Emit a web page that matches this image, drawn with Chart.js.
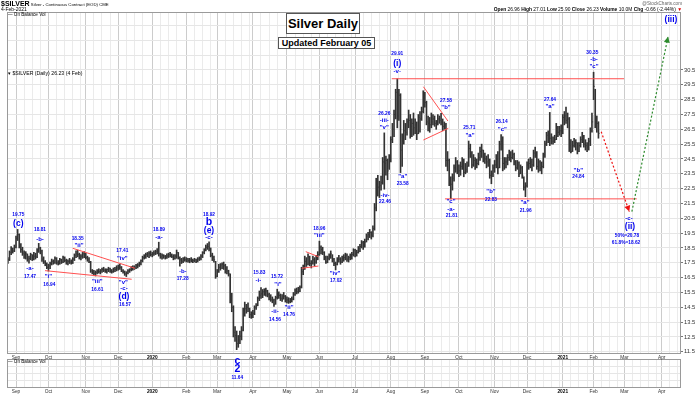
<!DOCTYPE html>
<html><head><meta charset="utf-8">
<script src="https://cdn.jsdelivr.net/npm/chart.js@4.4.1/dist/chart.umd.min.js"></script>
<style>
html,body{margin:0;padding:0;background:#fff;}
#wrap{position:relative;width:700px;height:395px;overflow:hidden;font-family:"Liberation Sans",Arial,sans-serif;}
canvas{position:absolute;left:0;}
#c1{top:0;} #c2{top:358px;}
.t{position:absolute;white-space:nowrap;color:#000;}
.box{position:absolute;box-sizing:border-box;border:1px solid #555;background:#fff;font-weight:bold;text-align:center;white-space:nowrap;color:#000;}
</style></head>
<body><div id="wrap">
<canvas id="c2" width="700" height="37"></canvas>
<canvas id="c1" width="700" height="395"></canvas>
<div class="t" style="left:1px;top:0px;font-size:4.3px;line-height:8px;"><b style="font-size:7px;">$SILVER</b> Silver - Continuous Contract (EOD) CME</div>
<div class="t" style="left:1px;top:6px;font-size:5px;line-height:6px;">4-Feb-2021</div>
<div class="t" style="left:8px;top:12px;font-size:4.6px;line-height:6px;">&#8212; On Balance Vol</div>
<div class="t" style="left:8px;top:69.5px;font-size:5.2px;line-height:6px;">&#9662; $SILVER (Daily) 26.23 (4 Feb)</div>
<div class="t" style="right:18px;top:1px;font-size:4.6px;line-height:6px;color:#666;">@StockCharts.com</div>
<div class="t" style="right:18px;top:7px;font-size:4.9px;line-height:6px;"><b>Open</b> 26.96 <b>High</b> 27.01 <b>Low</b> 25.90 <b>Close</b> 26.23 <b>Volume</b> 10.0M <b>Chg</b> -0.66 (-2.44%) <span style="color:#d00;">&#9660;</span></div>
<div class="t" style="left:8px;top:359px;font-size:4.6px;line-height:6px;">&#8212; On Balance Vol</div>
<div class="box" style="left:286px;top:13px;width:74px;height:21px;font-size:13px;line-height:19px;">Silver Daily</div>
<div class="box" style="left:278px;top:37px;width:97px;height:12px;font-size:9px;line-height:10px;">Updated February 05</div>
</div>
<script>
// ---------- DATA (daily bars, trading-day index starting at FIRST_INDEX; index 0 = 3-Sep-2019) ----------
const FIRST_INDEX = -5;
const highs = [
 17.85,18.30,18.60,18.50,18.70,19.30,19.75,
 19.45,18.80,18.55,18.30,18.25,18.10,17.95,18.15,18.05,18.20,18.15,18.45,18.81,18.55,18.35,17.90,17.65,17.50,17.40,
 17.55,17.75,17.70,17.90,17.85,17.65,17.80,17.75,17.95,17.90,17.75,17.70,17.80,17.70,17.85,18.10,18.30,18.35,18.15,18.05,18.20,18.25,18.15,17.95,17.85,17.60,17.05,17.00,
 16.95,17.05,17.10,17.05,17.15,17.20,17.10,17.10,17.20,17.15,17.05,17.15,17.20,17.30,17.35,17.41,17.25,17.05,16.95,16.90,17.05,17.10,17.25,17.30,17.30,17.40,
 17.45,17.55,17.70,17.95,18.05,18.15,18.20,18.25,18.30,18.20,18.30,18.35,18.45,18.89,18.15,18.10,18.05,18.00,18.10,18.15,18.20,18.10,18.05,18.05,18.36,18.20,17.90,17.80,17.85,17.90,17.85,17.80,17.80,17.85,17.75,17.80,17.75,17.85,17.90,18.05,18.25,18.45,18.70,18.80,18.92,18.50,18.15,17.95,17.60,17.05,
 17.40,17.45,17.50,17.55,17.40,17.25,17.00,16.75,15.45,14.60,13.20,12.90,12.60,12.90,13.20,14.45,14.85,14.70,14.80,14.45,14.20,
 14.30,14.60,14.75,15.20,15.60,15.83,15.70,15.75,15.80,15.65,15.45,15.35,15.20,15.05,15.25,15.72,15.55,15.40,15.35,15.50,15.30,15.20,15.15,15.10,15.20,15.50,15.75,15.80,15.85,15.95,17.20,17.35,17.95,17.85,18.10,17.95,17.65,17.95,17.85,18.00,18.25,18.96,
 18.65,18.55,18.25,17.95,17.95,18.10,18.30,18.05,17.80,17.55,17.85,18.00,17.85,17.95,18.05,18.15,18.10,17.95,18.10,18.20,18.45,18.40,18.35,18.60,18.75,19.00,18.95,19.10,19.45,19.55,19.75,19.60,20.00,21.50,23.20,23.40,23.00,23.35,24.60,26.26,24.70,24.50,24.80,26.00,26.90,27.80,29.20,29.91,29.20,28.90,26.20,27.10,26.90,27.20,27.80,27.50,27.20,27.60,27.20,27.00,27.50,27.70,28.00,29.10,
 29.00,28.40,27.40,27.30,27.60,27.50,27.40,27.10,27.50,27.40,27.58,27.20,27.00,26.90,25.00,24.50,23.30,23.50,24.10,24.60,24.40,
 24.10,24.30,24.60,24.50,24.20,24.30,25.71,25.50,25.00,24.80,24.60,24.50,24.90,25.30,25.50,25.10,24.90,24.70,24.80,24.50,23.70,24.10,
 24.40,24.80,25.00,25.70,26.14,26.00,24.60,24.60,24.80,25.10,25.00,25.10,24.90,24.40,24.40,24.30,24.10,24.00,23.30,22.90,
 24.30,24.50,24.60,24.50,25.10,25.30,25.00,24.50,24.40,24.30,24.90,25.70,26.30,26.40,27.64,26.20,26.00,26.10,26.90,26.70,26.70,26.80,
 27.50,27.70,28.00,27.60,27.30,25.80,25.70,25.90,25.80,25.60,25.60,26.00,26.30,26.10,25.80,25.60,25.90,26.60,27.60,30.35,29.20,27.40,27.01
];
const lows = [
 17.45,17.65,18.05,18.15,18.25,18.50,19.00,
 18.50,18.20,18.00,17.80,17.75,17.60,17.47,17.70,17.65,17.70,17.75,17.85,18.20,18.10,17.60,17.45,17.30,17.10,16.94,
 17.10,17.35,17.40,17.45,17.40,17.35,17.40,17.45,17.50,17.55,17.40,17.35,17.45,17.40,17.45,17.65,17.85,17.90,17.75,17.70,17.80,17.85,17.75,17.60,17.50,16.85,16.75,16.70,
 16.61,16.75,16.80,16.75,16.85,16.90,16.85,16.80,16.90,16.85,16.80,16.85,16.90,16.95,17.00,17.05,16.90,16.80,16.65,16.57,16.75,16.85,16.95,17.00,17.05,17.10,
 17.15,17.25,17.35,17.55,17.75,17.80,17.90,17.85,17.95,17.90,18.00,18.05,18.10,17.95,17.80,17.75,17.80,17.75,17.80,17.85,17.90,17.85,17.70,17.75,17.80,17.75,17.28,17.45,17.50,17.60,17.55,17.55,17.50,17.55,17.50,17.55,17.50,17.55,17.65,17.70,17.85,18.10,18.30,18.40,18.30,17.90,17.65,17.55,16.45,16.55,
 16.85,17.00,17.10,17.05,16.80,16.75,16.60,14.80,14.20,12.50,12.20,11.64,11.80,12.05,12.30,12.90,13.90,14.10,14.20,13.80,13.75,
 13.80,14.00,14.35,14.60,14.95,15.10,15.15,15.30,15.25,15.20,15.00,14.90,14.80,14.56,14.70,15.05,15.10,14.95,14.90,15.05,14.85,14.80,14.76,14.80,14.85,15.00,15.30,15.40,15.45,15.55,15.80,16.70,17.05,17.25,17.35,17.30,17.15,17.40,17.30,17.45,17.70,18.00,
 18.10,18.05,17.70,17.45,17.50,17.70,17.80,17.55,17.30,17.02,17.35,17.55,17.40,17.50,17.60,17.70,17.60,17.55,17.70,17.75,17.95,17.90,17.95,18.15,18.25,18.50,18.40,18.55,18.90,19.05,19.20,19.10,19.25,19.70,21.00,22.00,21.90,22.40,22.80,22.46,23.40,23.10,23.80,24.30,25.60,26.00,27.20,26.60,27.10,23.58,24.00,25.50,25.80,26.10,26.60,25.90,26.00,26.10,26.20,25.80,26.20,26.30,27.10,27.60,
 28.00,26.80,26.40,26.30,26.60,26.80,26.70,26.50,26.80,26.90,26.80,26.40,26.50,24.00,23.70,22.70,21.81,22.40,23.00,23.60,23.50,
 23.30,23.40,23.80,23.30,23.50,23.60,24.00,24.60,23.90,24.00,23.80,23.90,24.10,24.40,24.60,24.30,24.20,23.90,24.00,23.20,22.83,23.30,
 23.60,23.90,23.50,23.90,25.10,23.70,23.80,23.90,24.10,24.40,24.30,24.50,24.10,23.70,23.80,23.30,23.50,23.20,22.40,21.96,
 22.60,23.80,23.90,23.70,24.00,24.60,23.80,23.60,23.70,23.50,23.90,24.60,25.40,25.60,25.40,25.50,25.50,25.60,25.80,26.00,26.10,26.00,
 26.20,26.80,26.90,26.60,25.00,24.90,25.00,25.30,25.10,24.84,25.00,25.30,25.60,25.30,25.10,25.00,25.10,25.40,26.30,28.50,26.60,26.30,25.90
];
const closes = [
 17.70,18.20,18.45,18.30,18.55,19.15,19.40,
 18.70,18.40,18.15,18.05,18.10,17.75,17.80,18.05,17.85,17.95,17.90,18.35,18.50,18.30,17.75,17.55,17.40,17.20,17.30,
 17.45,17.60,17.50,17.80,17.50,17.45,17.70,17.55,17.85,17.65,17.50,17.60,17.55,17.50,17.75,18.00,18.10,18.05,17.85,17.95,18.10,18.00,17.85,17.70,17.55,16.95,16.85,16.80,
 16.85,16.95,16.90,17.00,17.05,17.00,16.95,17.05,17.10,16.95,16.90,17.10,17.05,17.15,17.25,17.20,16.95,16.90,16.75,16.80,16.95,17.05,17.10,17.20,17.15,17.30,
 17.35,17.45,17.65,17.85,17.95,18.05,18.10,18.15,18.05,18.10,18.15,18.25,18.30,18.10,17.90,18.00,17.95,17.85,17.95,18.05,18.00,17.90,17.80,17.95,18.20,17.85,17.70,17.60,17.75,17.70,17.75,17.65,17.70,17.60,17.65,17.70,17.60,17.75,17.80,17.95,18.20,18.40,18.55,18.60,18.50,18.00,17.85,17.70,16.60,16.90,
 17.20,17.35,17.40,17.30,17.05,16.95,16.75,15.00,14.50,12.80,12.60,12.05,12.30,12.55,12.95,14.30,14.40,14.50,14.40,14.00,13.95,
 14.10,14.50,14.60,15.10,15.30,15.40,15.55,15.50,15.60,15.35,15.20,15.00,14.95,14.70,15.15,15.45,15.30,15.10,15.05,15.25,14.95,15.00,14.90,14.95,15.05,15.35,15.60,15.55,15.75,15.85,16.90,17.25,17.60,17.40,17.90,17.45,17.50,17.70,17.55,17.90,18.05,18.55,
 18.40,18.20,17.85,17.55,17.80,17.95,18.10,17.70,17.45,17.40,17.70,17.75,17.55,17.80,17.85,18.00,17.75,17.85,18.00,18.05,18.35,18.10,18.20,18.45,18.60,18.85,18.65,18.90,19.30,19.40,19.55,19.35,19.80,21.20,22.80,22.60,22.70,22.90,24.30,24.20,24.40,23.70,24.50,25.80,26.50,27.50,29.00,27.40,28.80,25.10,25.70,26.40,26.30,27.00,27.10,26.70,26.90,26.60,26.80,26.20,27.30,27.20,27.70,28.80,
 28.30,27.00,26.90,26.80,27.00,27.20,26.90,26.80,27.20,27.10,27.00,26.70,26.80,24.40,24.40,22.90,22.80,23.20,23.90,24.30,23.70,
 23.70,24.00,24.30,23.60,23.80,24.00,25.20,24.90,24.10,24.40,24.20,24.20,24.60,25.00,25.10,24.60,24.50,24.30,24.40,23.40,23.50,23.90,
 24.10,24.50,23.90,25.50,25.70,24.20,24.30,24.30,24.60,24.80,24.60,24.80,24.30,23.90,24.10,23.50,23.90,23.40,22.60,22.70,
 24.10,24.20,24.30,24.10,24.90,24.80,24.00,24.30,23.90,24.00,24.80,25.50,26.10,25.90,25.90,25.70,25.70,25.80,26.30,26.30,26.40,26.40,
 27.30,27.40,27.10,27.20,25.40,25.00,25.40,25.50,25.60,25.00,25.40,25.80,26.00,25.50,25.40,25.30,25.70,26.40,27.00,29.40,26.90,26.90,26.23
];
const monthLabels = ['Sep','Oct','Nov','Dec','2020','Feb','Mar','Apr','May','Jun','Jul','Aug','Sep','Oct','Nov','Dec','2021','Feb','Mar','Apr'];
const monthStarts = [0,20,43,63,84,105,124,146,167,187,209,231,252,273,295,315,337,356,375,398];
const priceTicks = [11.5,12,12.5,13,13.5,14,14.5,15,15.5,16,16.5,17,17.5,18,18.5,19,19.5,20,20.5,21,21.5,22,22.5,23,23.5,24,24.5,25,25.5,26,26.5,27,27.5,28,28.5,29,29.5,30,30.5];

// ---------- Annotations (data coordinates: trading-day index, price) ----------
const trendLines = [
 [231.6,29.91,374.8,29.91],
 [264.4,21.81,382.6,21.81],
 [34.96,18.48,73.4,17.13],
 [17.9,16.97,71.3,16.39],
 [178.6,18.25,186.4,17.91],
 [176.1,17.13,186.4,17.28],
 [251.1,29.37,266.2,27.06],
 [251.1,25.78,266.5,26.57]
];
const arrows = [
 {from:[360.7,26.34], to:[378.0,20.95], color:'#ee1111'},
 {from:[379.6,20.95], to:[401.9,32.75], color:'#2e8b2e'}
];
const waveLabels = [
 [1.42,20.77,'19.75','n'],[1.42,20.16,'(c)','p'],
 [14.79,19.71,'18.81','n'],[14.79,19.10,'-b-','w'],
 [8.63,17.13,'-a-','w'],[8.63,16.56,'17.47','n'],
 [19.91,16.61,'"i"','w'],[20.52,16.00,'16.94','n'],
 [38.03,19.15,'18.35','n'],[38.83,18.70,'"ii"','w'],
 [50.11,16.27,'"iii"','w'],[50.11,15.71,'16.61','n'],
 [65.52,18.31,'17.41','n'],[65.52,17.80,'"iv"','w'],
 [66.14,16.18,'"v"','w'],[66.57,15.78,'-c-','w'],[66.57,15.21,'(d)','p'],[67.18,14.65,'16.57','n'],
 [88.14,19.71,'18.89','n'],[88.14,19.22,'-a-','w'],
 [102.75,16.95,'-b-','w'],[102.75,16.45,'17.28','n'],
 [118.96,20.77,'18.92','n'],[118.96,20.23,'b','b'],[118.96,19.66,'(e)','p'],[118.96,19.19,'-c-','w'],
 [136.4,10.88,'c','b'],[136.4,10.34,'2','b'],[136.4,9.78,'11.64','n'],
 [149.96,16.83,'15.83','n'],[149.35,16.34,'-i-','w'],
 [159.64,14.20,'-ii-','w'],[159.64,13.69,'14.56','n'],
 [160.87,16.56,'15.72','n'],[161.49,16.07,'"i"','w'],
 [168.27,14.50,'"ii"','w'],[168.27,13.98,'14.76','n'],
 [186.95,19.83,'18.96','n'],[186.95,19.33,'"iii"','w'],
 [196.62,16.79,'"iv"','w'],[197.24,16.29,'17.02','n'],
 [227.0,27.58,'26.26','n'],[227.0,27.08,'-iii-','w'],[227.0,26.64,'"v"','w'],
 [227.44,22.07,'-iv-','w'],[227.44,21.63,'22.46','n'],
 [238.35,23.35,'"a"','w'],[238.35,22.86,'23.58','n'],
 [235.0,31.63,'29.91','n'],[235.0,30.95,'(i)','p'],[235.0,30.39,'-v-','w'],
 [265.04,28.41,'27.58','n'],[265.04,27.98,'"b"','w'],
 [279.4,26.61,'25.71','n'],[279.83,26.12,'"a"','w'],
 [299.37,27.01,'26.14','n'],[299.74,26.52,'"c"','w'],
 [268.12,21.62,'"c"','w'],[268.12,21.13,'-a-','w'],[268.55,20.66,'21.81','n'],
 [292.78,22.29,'"b"','w'],[292.78,21.73,'22.83','n'],
 [313.73,21.55,'"a"','w'],[314.16,21.01,'21.96','n'],
 [329.14,28.48,'27.64','n'],[329.14,28.03,'"a"','w'],
 [346.58,23.76,'"b"','w'],[346.58,23.31,'24.84','n'],
 [355.21,31.67,'30.35','n'],[356.26,31.22,'-b-','w'],[356.26,30.77,'"c"','w'],
 [377.83,20.50,'-c-','w'],[378.45,19.93,'(ii)','p'],
 [376.6,19.31,'50%=20.78','n'],[375.99,18.87,'61.8%=18.62','n'],
 [403.7,33.92,'(iii)','p']
];

// ---------- Layout / style ----------
const X_MIN = -5.55, X_MAX = 409.88, Y_MIN = 11.35, Y_MAX = 34.41;
const FONT = '"Liberation Sans", Arial, sans-serif';
const labelSizes = {n:4.8, w:6, p:8.5, b:10.5};
const BAR_COLOR = '#333333';

const xTickList = [];
monthStarts.forEach((s, i) => {
  xTickList.push({value:s, major:true});
  const next = i + 1 < monthStarts.length ? monthStarts[i+1] : 412;
  for (let k = 5; s + k < next - 1; k += 5) xTickList.push({value:s+k, major:false});
});
function monthLabelAt(v){ const i = monthStarts.indexOf(v); return i >= 0 ? monthLabels[i] : ''; }
function isYear(v){ return /^\d{4}$/.test(monthLabelAt(v)); }

function xScale(h){
  return {
    type:'linear', min:X_MIN, max:X_MAX, offset:false,
    afterBuildTicks: s => { s.ticks = xTickList.map(t => ({value:t.value, major:t.major})); },
    afterFit: s => { s.height = h; },
    grid:{ offset:false, drawTicks:false, lineWidth:1,
      color: c => (c.tick && c.tick.major) ? '#cccccc' : '#ebebeb' },
    border:{display:false},
    ticks:{ autoSkip:false, maxRotation:0, minRotation:0, padding:1,
      callback: v => monthLabelAt(v),
      color: c => (c.tick && isYear(c.tick.value)) ? '#000' : '#333',
      font: c => ({family:FONT, size:4.8, weight:(c.tick && isYear(c.tick.value)) ? 'bold' : 'normal'}) }
  };
}

const frame = {
  id:'frame',
  afterDraw(chart){
    const {ctx, chartArea:a} = chart;
    ctx.save();
    ctx.strokeStyle = '#9a9a9a'; ctx.lineWidth = 1;
    ctx.strokeRect(Math.round(a.left)+0.5, Math.round(a.top)+0.5, Math.round(a.right-a.left)-1, Math.round(a.bottom-a.top)-1);
    ctx.restore();
  }
};

const overlay = {
  id:'overlay',
  afterDatasetsDraw(chart){
    const {ctx, scales:{x, y}} = chart;
    ctx.save();
    arrows.forEach(a => {
      const x1 = x.getPixelForValue(a.from[0]), y1 = y.getPixelForValue(a.from[1]);
      const x2 = x.getPixelForValue(a.to[0]), y2 = y.getPixelForValue(a.to[1]);
      const ang = Math.atan2(y2 - y1, x2 - x1), L = 6, W = 3;
      ctx.fillStyle = a.color;
      ctx.beginPath();
      ctx.moveTo(x2, y2);
      ctx.lineTo(x2 - L*Math.cos(ang) + W*Math.sin(ang), y2 - L*Math.sin(ang) - W*Math.cos(ang));
      ctx.lineTo(x2 - L*Math.cos(ang) - W*Math.sin(ang), y2 - L*Math.sin(ang) + W*Math.cos(ang));
      ctx.closePath(); ctx.fill();
    });
    ctx.fillStyle = '#0000ee';
    ctx.textAlign = 'center'; ctx.textBaseline = 'middle';
    waveLabels.forEach(([lx, ly, t, s]) => {
      ctx.font = 'bold ' + labelSizes[s] + 'px ' + FONT;
      ctx.fillText(t, x.getPixelForValue(lx), y.getPixelForValue(ly));
    });
    ctx.restore();
  }
};

const n = Math.min(highs.length, lows.length, closes.length);
const barData = [], closeData = [];
for (let i = 0; i < n; i++) {
  const d = FIRST_INDEX + i;
  barData.push({x:d, y:[lows[i], highs[i]]});
  closeData.push({x:d, y:closes[i]});
}
const datasets = [
  {type:'bar', data:barData, backgroundColor:BAR_COLOR, barThickness:1, grouped:false, order:3},
  {type:'line', data:closeData, showLine:false, pointStyle:'dash', pointRadius:1.2, pointBorderWidth:0.8,
   pointBorderColor:BAR_COLOR, pointBackgroundColor:BAR_COLOR, pointHoverRadius:0, order:2}
];
trendLines.forEach(l => datasets.push({type:'line', data:[{x:l[0],y:l[1]},{x:l[2],y:l[3]}],
  borderColor:'#ff5050', borderWidth:1, pointRadius:0, fill:false, order:1}));
arrows.forEach(a => datasets.push({type:'line', data:[{x:a.from[0],y:a.from[1]},{x:a.to[0],y:a.to[1]}],
  borderColor:a.color, borderWidth:1.2, borderDash:[2,2], pointRadius:0, fill:false, order:0}));

const gridValues = priceTicks.concat([31,31.5,32,32.5,33,33.5,34]);

new Chart(document.getElementById('c1'), {
  type:'bar',
  data:{datasets},
  options:{
    responsive:false, animation:false, events:[],
    layout:{padding:{left:7, top:12, right:0, bottom:33}},
    plugins:{legend:{display:false}, tooltip:{enabled:false}},
    scales:{
      x: xScale(8),
      y: {
        position:'right', min:Y_MIN, max:Y_MAX, beginAtZero:false,
        afterBuildTicks: s => { s.ticks = gridValues.map(v => ({value:v})); },
        afterFit: s => { s.width = 19; },
        grid:{ color:'#e6e6e6', drawTicks:true, tickLength:2,
          tickColor: c => (c.tick && c.tick.value <= 30.5) ? '#777' : 'rgba(0,0,0,0)' },
        border:{display:false},
        ticks:{ padding:1, color:'#333', font:{family:FONT, size:5.8},
          callback: v => v <= 30.5 ? Number(v).toFixed(1) : '' }
      }
    }
  },
  plugins:[frame, overlay]
});

new Chart(document.getElementById('c2'), {
  type:'scatter',
  data:{datasets:[{data:[]}]},
  options:{
    responsive:false, animation:false, events:[],
    layout:{padding:{left:7, top:1, right:0, bottom:0}},
    plugins:{legend:{display:false}, tooltip:{enabled:false}},
    scales:{
      x: xScale(7),
      y: { position:'right', min:0, max:4,
        afterBuildTicks: s => { s.ticks = [1,2,3].map(v => ({value:v})); },
        afterFit: s => { s.width = 19; },
        grid:{color:'#e6e6e6', drawTicks:false}, border:{display:false}, ticks:{display:false} }
    }
  },
  plugins:[frame]
});
</script>
</body></html>
